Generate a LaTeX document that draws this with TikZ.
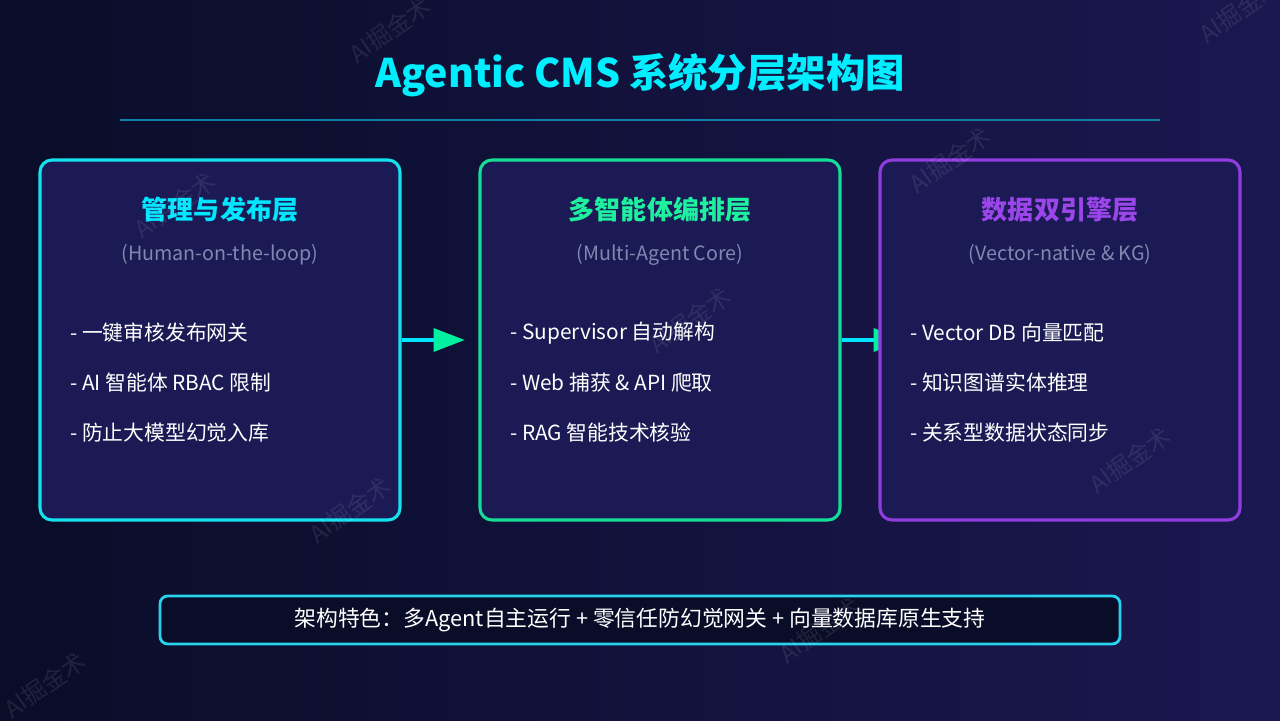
\documentclass[tikz,border=0pt]{standalone}
\usepackage{fontspec}
\setmainfont{Noto Sans CJK SC}
\usetikzlibrary{arrows.meta,positioning}
\definecolor{bgleft}{RGB}{9,13,40}
\definecolor{bgright}{RGB}{27,23,80}
\definecolor{tierfill}{RGB}{27,26,84}
\definecolor{titlecyan}{RGB}{0,238,255}
\definecolor{rulecolor}{RGB}{18,125,165}
\definecolor{mgmtedge}{RGB}{20,225,240}
\definecolor{agentedge}{RGB}{20,222,150}
\definecolor{dataedge}{RGB}{145,60,225}
\definecolor{mgmthead}{RGB}{0,230,255}
\definecolor{agenthead}{RGB}{30,240,160}
\definecolor{datahead}{RGB}{155,70,235}
\definecolor{subgray}{RGB}{130,135,175}
\definecolor{flowcyan}{RGB}{0,229,255}
\definecolor{flowgreen}{RGB}{0,240,160}
\definecolor{noteedge}{RGB}{40,210,235}
\definecolor{notefill}{RGB}{9,13,40}

\begin{document}
\begin{tikzpicture}[
  tier/.style={rectangle,rounded corners=8.5pt,line width=2.2pt,fill=tierfill,
               minimum width=9cm,minimum height=9cm},
  head/.style={font=\fontsize{18.5}{22}\selectfont\bfseries},
  sub/.style={font=\fontsize{14}{17}\selectfont,text=subgray},
  item/.style={font=\fontsize{14.8}{17}\selectfont,text=white,anchor=west,inner sep=0pt},
  flow/.style={line width=2.8pt,draw=flowcyan,
               -{Triangle[length=7.75mm,width=6mm,line width=0pt,fill=flowgreen,color=flowgreen]}},
  wmark/.style={font=\fontsize{17}{20}\selectfont,text=white,opacity=0.09,rotate=35}
]
  \useasboundingbox (0,0) rectangle (32,-18);
  \shade[left color=bgleft,right color=bgright] (0,0) rectangle (32,-18);

  % Title and rule
  \node[font=\fontsize{28}{32}\selectfont\bfseries,text=titlecyan] (title) at (16,-1.875)
    {Agentic CMS 系统分层架构图};
  \draw[line width=2.1pt,rulecolor] (3,-3) -- (29,-3);

  % Management tier
  \node[tier,draw=mgmtedge] (mgmt) at (5.5,-8.5) {};
  \node[head,text=mgmthead] (mgmtT) at (5.5,-5.25) {管理与发布层};
  \node[sub] (mgmtS) at (5.5,-6.37) {(Human-on-the-loop)};
  \node[item] (mgmtA) at (1.75,-8.32)  {- 一键审核发布网关};
  \node[item] (mgmtB) at (1.75,-9.57) {- AI 智能体 RBAC 限制};
  \node[item] (mgmtC) at (1.75,-10.82) {- 防止大模型幻觉入库};

  % Agent tier
  \node[tier,draw=agentedge] (agent) at (16.5,-8.5) {};
  \node[head,text=agenthead] (agentT) at (16.5,-5.25) {多智能体编排层};
  \node[sub] (agentS) at (16.5,-6.37) {(Multi-Agent Core)};
  \node[item] (agentA) at (12.75,-8.32)  {- Supervisor 自动解构};
  \node[item] (agentB) at (12.75,-9.57) {- Web 捕获 \& API 爬取};
  \node[item] (agentC) at (12.75,-10.82) {- RAG 智能技术核验};

  % Flow arrows (second one runs under the data tier)
  \coordinate[right=1.575cm of mgmt.east]  (tip1);
  \coordinate[right=1.575cm of agent.east] (tip2);
  \draw[flow] (mgmt.east) -- (tip1);
  \draw[flow] (agent.east) -- (tip2);

  % Data tier
  \node[tier,draw=dataedge] (data) at (26.5,-8.5) {};
  \node[head,text=datahead] (dataT) at (26.5,-5.25) {数据双引擎层};
  \node[sub] (dataS) at (26.5,-6.37) {(Vector-native \& KG)};
  \node[item] (dataA) at (22.75,-8.32)  {- Vector DB 向量匹配};
  \node[item] (dataB) at (22.75,-9.57) {- 知识图谱实体推理};
  \node[item] (dataC) at (22.75,-10.82) {- 关系型数据状态同步};

  % Summary bar
  \node[draw=noteedge,line width=2pt,fill=notefill,rounded corners=5.5pt,
        minimum width=24cm,minimum height=1.2cm,
        font=\fontsize{15.5}{18}\selectfont,text=white] (note) at (16,-15.5)
    {架构特色：多Agent自主运行 + 零信任防幻觉网关 + 向量数据库原生支持};

  % Watermarks
  \node[wmark] (wm1) at (9.75,-0.75)    {AI掘金术};
  \node[wmark] (wm2) at (31,-0.25)      {AI掘金术};
  \node[wmark] (wm3) at (23.75,-4)      {AI掘金术};
  \node[wmark] (wm4) at (4.375,-5.125)  {AI掘金术};
  \node[wmark] (wm5) at (17.25,-8)      {AI掘金术};
  \node[wmark] (wm6) at (8.75,-12.75)   {AI掘金术};
  \node[wmark] (wm7) at (28.25,-11.5)   {AI掘金术};
  \node[wmark] (wm8) at (20.5,-15.75)   {AI掘金术};
  \node[wmark] (wm9) at (1.125,-17.125) {AI掘金术};
\end{tikzpicture}
\end{document}
